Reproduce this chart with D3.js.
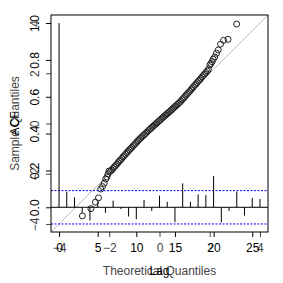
<!DOCTYPE html>
<html lang="en">
<head>
  <meta charset="UTF-8">
  <title>QQ plot over ACF</title>
  <style>
    body { margin: 0; background: #fff; }
    svg { display: block; font-family: "Liberation Sans", Arial, sans-serif; }
  </style>
</head>
<body>
  <div id="chart"></div>

  <script src="https://d3js.org/d3.v7.min.js"></script>
  <script>

    // ACF of the series, lags 0..26
    const acfLags = [0, 1, 2, 3, 4, 5, 6, 7, 8, 9, 10, 11, 12, 13, 14, 15, 16, 17, 18, 19, 20, 21, 22, 23, 24, 25, 26];
    const acfValues = [1.0, 0.085, 0.054, -0.03, -0.072, 0.03, -0.03, 0.036, -0.01, -0.05, -0.065, 0.04, -0.02,
                       0.063, 0.03, -0.081, 0.13, 0.03, 0.07, 0.067, 0.17, -0.083, -0.02, 0.085, -0.045, 0.05, 0.045];
    const ciLimit = 0.0905;
    const acfXTicks = [0, 5, 10, 15, 20, 25];
    const acfYTicks = [0.0, 0.2, 0.4, 0.6, 0.8, 1.0];

    // normal QQ plot of the residuals
    const qqTheoretical = [-3.07, -2.73, -2.55, -2.43, -2.34, -2.27, -2.20, -2.14, -2.094, -2.048, -2.006,
      -1.95, -1.90, -1.85, -1.80, -1.75, -1.70, -1.65, -1.60, -1.55, -1.50, -1.45, -1.40, -1.35, -1.30, -1.25,
      -1.20, -1.15, -1.10, -1.05, -1.00, -0.95, -0.90, -0.85, -0.80, -0.75, -0.70, -0.65, -0.60, -0.55, -0.50,
      -0.45, -0.40, -0.35, -0.30, -0.25, -0.20, -0.15, -0.10, -0.05, 0.00, 0.05, 0.10, 0.15, 0.20, 0.25,
      0.30, 0.35, 0.40, 0.45, 0.50, 0.55, 0.60, 0.65, 0.70, 0.75, 0.80, 0.85, 0.90, 0.95, 1.00, 1.05,
      1.10, 1.15, 1.20, 1.25, 1.30, 1.35, 1.40, 1.45, 1.50, 1.55, 1.60, 1.65, 1.70, 1.75, 1.80, 1.85, 1.90, 1.95,
      2.006, 2.048, 2.094, 2.14, 2.20, 2.27, 2.34, 2.43, 2.55, 2.73, 3.07];
    const qqSample = [-3.68, -3.39, -3.13, -2.96, -2.61, -2.51, -2.38, -2.21, -2.13, -2.01, -1.89,
      -1.90, -1.85, -1.79, -1.73, -1.68, -1.62, -1.56, -1.50, -1.45, -1.39, -1.33, -1.28, -1.22, -1.16, -1.11,
      -1.05, -1.00, -0.95, -0.89, -0.84, -0.79, -0.73, -0.68, -0.63, -0.58, -0.53, -0.48, -0.44, -0.39, -0.34,
      -0.29, -0.24, -0.20, -0.15, -0.11, -0.06, -0.02, 0.03, 0.07, 0.12, 0.16, 0.21, 0.25, 0.30, 0.34,
      0.39, 0.43, 0.47, 0.52, 0.56, 0.61, 0.66, 0.70, 0.75, 0.79, 0.84, 0.89, 0.95, 1.00, 1.06, 1.12,
      1.17, 1.23, 1.28, 1.34, 1.40, 1.46, 1.52, 1.57, 1.63, 1.69, 1.74, 1.80, 1.86, 1.92, 1.97, 2.03, 2.09, 2.16,
      2.33, 2.39, 2.46, 2.56, 2.65, 2.80, 2.93, 3.16, 3.31, 3.35, 3.96];
    const qqTicks = [-4, -2, 0, 2, 4];

    const width = 283,
          height = 283,
          margin = {top: 15, right: 15, bottom: 51, left: 51};

    const svg = d3.select("#chart")
      .append("svg")
      .attr("width", width)
      .attr("height", height);

    // R style axis range: data range stretched by 4% each side
    const pad = (lo, hi) => [lo - 0.04 * (hi - lo), hi + 0.04 * (hi - lo)];

    const xAcf = d3.scaleLinear(pad(0, 26), [margin.left, width - margin.right]);
    const yAcf = d3.scaleLinear(pad(-ciLimit, 1), [height - margin.bottom, margin.top]);
    const xQQ = d3.scaleLinear(pad(-4, 4), [margin.left, width - margin.right]);
    const yQQ = d3.scaleLinear(pad(-4, 4), [height - margin.bottom, margin.top]);

    // ---- QQ plot ----
    svg.append("line") // reference line y = x
      .attr("x1", xQQ(-4.32)).attr("y1", yQQ(-4.32))
      .attr("x2", xQQ(4.32)).attr("y2", yQQ(4.32))
      .attr("stroke", "#bbb")
      .attr("stroke-width", 1);

    svg.append("g")
      .selectAll("circle")
      .data(qqTheoretical)
      .join("circle")
      .attr("cx", d => xQQ(d))
      .attr("cy", (d, i) => yQQ(qqSample[i]))
      .attr("r", 3)
      .attr("fill", "none")
      .attr("stroke", "#222")
      .attr("stroke-width", 1);

    const qqXAxis = svg.append("g")
      .attr("transform", `translate(0,${height - margin.bottom})`)
      .call(d3.axisBottom(xQQ).tickValues(qqTicks).tickSize(5).tickPadding(6).tickFormat(d3.format("d")));
    const qqYAxis = svg.append("g")
      .attr("transform", `translate(${margin.left},0)`)
      .call(d3.axisLeft(yQQ).tickValues(qqTicks).tickSize(5).tickFormat(d3.format("d")));

    // ---- ACF plot ----
    svg.append("line")
      .attr("x1", margin.left).attr("x2", width - margin.right)
      .attr("y1", yAcf(0)).attr("y2", yAcf(0))
      .attr("stroke", "#000");

    svg.append("g")
      .selectAll("line")
      .data([ciLimit, -ciLimit])
      .join("line")
      .attr("x1", margin.left).attr("x2", width - margin.right)
      .attr("y1", d => yAcf(d)).attr("y2", d => yAcf(d))
      .attr("stroke", "#0000ff")
      .attr("stroke-dasharray", "2,1.5");

    svg.append("g")
      .selectAll("line")
      .data(acfLags)
      .join("line")
      .attr("x1", d => xAcf(d)).attr("x2", d => xAcf(d))
      .attr("y1", yAcf(0))
      .attr("y2", (d, i) => yAcf(acfValues[i]))
      .attr("stroke", "#000");

    const acfXAxis = svg.append("g")
      .attr("transform", `translate(0,${height - margin.bottom})`)
      .call(d3.axisBottom(xAcf).tickValues(acfXTicks).tickSize(5).tickPadding(6));
    const acfYAxis = svg.append("g")
      .attr("transform", `translate(${margin.left},0)`)
      .call(d3.axisLeft(yAcf).tickValues(acfYTicks).tickSize(5).tickFormat(d3.format(".1f")));

    // R style axes: no domain line, rotated labels on the left
    for (const [ax, col] of [[qqXAxis, "#444"], [qqYAxis, "#444"], [acfXAxis, "#000"], [acfYAxis, "#000"]]) {
      ax.select(".domain").remove();
      ax.selectAll("line").attr("stroke", col);
      ax.selectAll("text").attr("fill", col).style("font-size", "12px");
    }
    for (const ax of [qqYAxis, acfYAxis]) {
      ax.selectAll(".tick text")
        .attr("x", 0).attr("dy", 0)
        .attr("text-anchor", "middle")
        .attr("transform", "translate(-12,0) rotate(-90)");
    }

    // plot frame
    svg.append("rect")
      .attr("x", margin.left).attr("y", margin.top)
      .attr("width", width - margin.left - margin.right)
      .attr("height", height - margin.top - margin.bottom)
      .attr("fill", "none")
      .attr("stroke", "#000");

    // axis titles
    svg.append("text")
      .attr("x", xQQ(0)).attr("y", 275)
      .attr("text-anchor", "middle")
      .attr("fill", "#444")
      .style("font-size", "12px")
      .text("Theoretical Quantiles");
    svg.append("text")
      .attr("x", xQQ(0)).attr("y", 275)
      .attr("text-anchor", "middle")
      .style("font-size", "12px")
      .text("Lag");
    svg.append("text")
      .attr("transform", `translate(18.5,${yQQ(0)}) rotate(-90)`)
      .attr("text-anchor", "middle")
      .attr("fill", "#444")
      .style("font-size", "12px")
      .text("Sample Quantiles");
    svg.append("text")
      .attr("transform", `translate(18.5,${yQQ(0)}) rotate(-90)`)
      .attr("text-anchor", "middle")
      .style("font-size", "12px")
      .text("ACF");
  </script>
</body>
</html>
